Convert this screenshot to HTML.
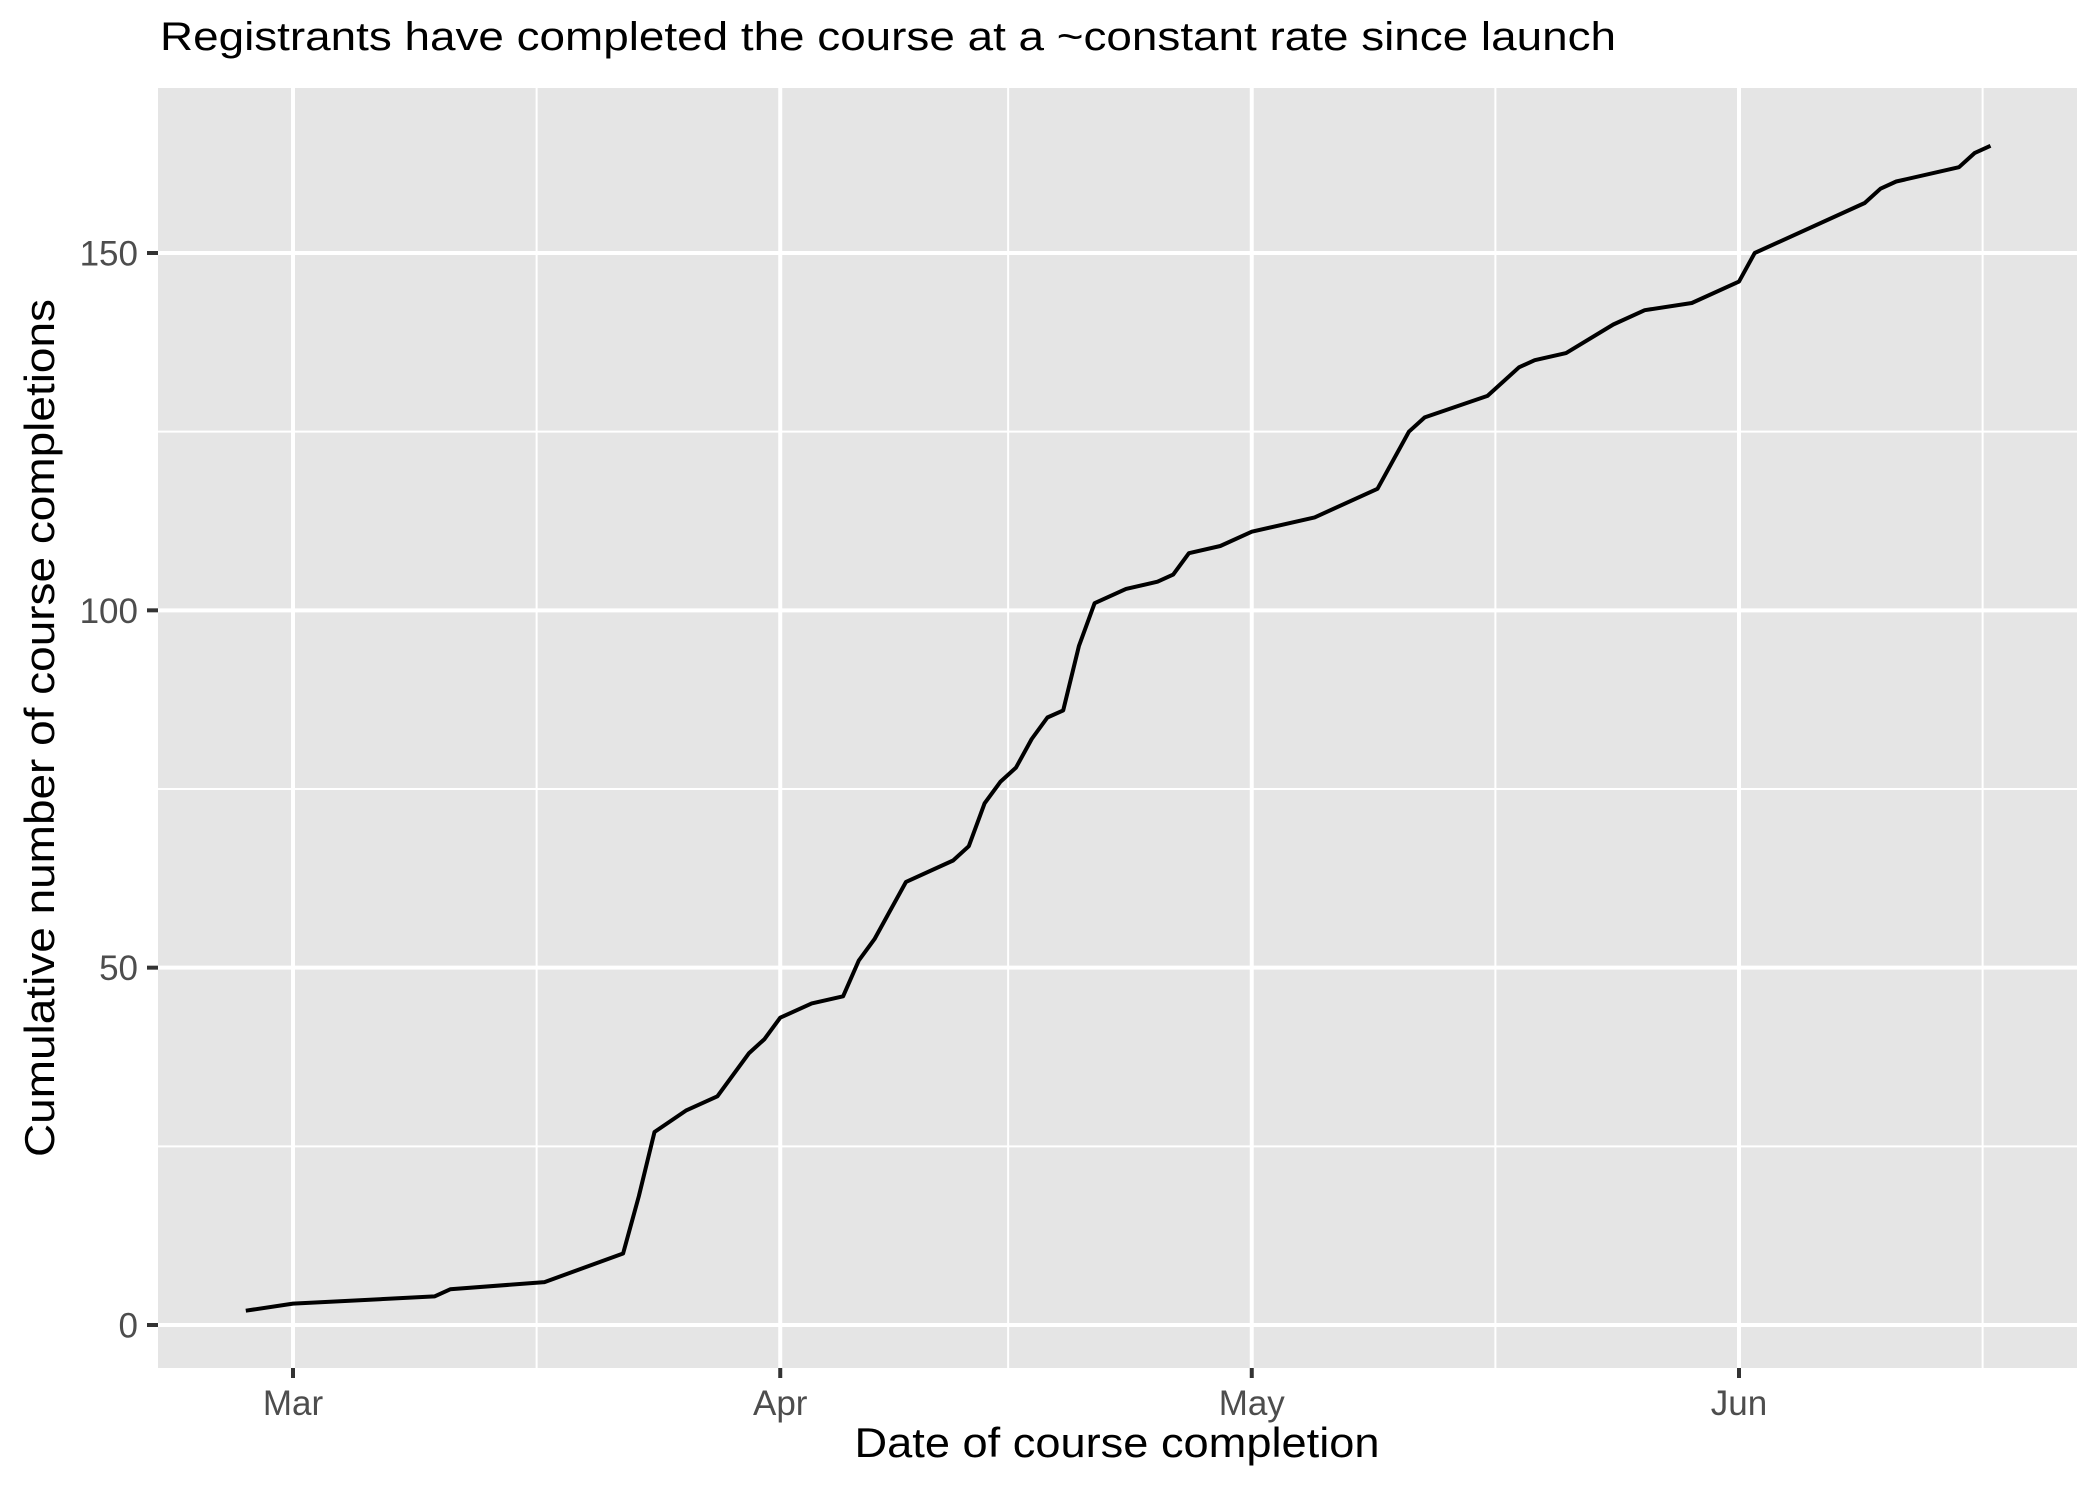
<!DOCTYPE html>
<html><head><meta charset="utf-8"><style>
html,body{margin:0;padding:0;background:#fff}
svg{display:block}
text{font-family:"Liberation Sans",Arial,sans-serif}
</style></head><body>
<svg id="chart" width="2100" height="1500" viewBox="0 0 2100 1500" xmlns="http://www.w3.org/2000/svg">
<text x="160" y="50" font-size="40" fill="#000" textLength="1456" lengthAdjust="spacingAndGlyphs">Registrants have completed the course at a ~constant rate since launch</text>
<rect x="158" y="88" width="1919" height="1280" fill="#e5e5e5"/>
<g id="grid"></g>
<g id="series"></g>
<g id="axes"></g>
<text x="1117" y="1457" font-size="42" text-anchor="middle" fill="#000" textLength="525" lengthAdjust="spacingAndGlyphs">Date of course completion</text>
<text transform="translate(54,728) rotate(-90)" font-size="42" text-anchor="middle" fill="#000" textLength="858" lengthAdjust="spacingAndGlyphs">Cumulative number of course completions</text>
</svg>
<script>
// days since Mar 1
const days = [-3,0,9,10,16,21,22,23,25,27,29,30,31,33,35,36,37,39,42,43,44,45,46,47,48,49,50,51,53,55,56,57,59,61,65,69,71,72,76,78,79,81,84,86,89,92,93,100,101,102,106,107,108];
const counts = [2,3,4,5,6,10,18,27,30,32,38,40,43,45,46,51,54,62,65,67,73,76,78,82,85,86,95,101,103,104,105,108,109,111,113,117,125,127,130,134,135,136,140,142,143,146,150,157,159,160,162,164,165];
const xTickDays = [0,31,61,92];
const xTickLabels = ["Mar","Apr","May","Jun"];
const xMinorDays = [15.5,45.5,76.5,107.5];
const yTicks = [0,50,100,150];
const yMinor = [25,75,125];

const NS = "http://www.w3.org/2000/svg";
const X0 = 293, XPD = (1739-293)/92;
const Y0 = 1325, YPU = (1325-253)/150;
const PL = 158, PR = 2077, PT = 88, PB = 1368;
const x = d => X0 + d*XPD;
const y = v => Y0 - v*YPU;
function mk(tag, attrs, parent){
  const e = document.createElementNS(NS, tag);
  for (const k in attrs) e.setAttribute(k, attrs[k]);
  parent.appendChild(e); return e;
}
const grid = document.getElementById('grid');
const axes = document.getElementById('axes');
const series = document.getElementById('series');

yMinor.forEach(v => {
  const l = mk('line', {x1:PL, x2:PR, y1:y(v), y2:y(v), stroke:'#fff', 'stroke-width':2}, grid);
  
  
});
xMinorDays.forEach(d => {
  const l = mk('line', {x1:x(d), x2:x(d), y1:PT, y2:PB, stroke:'#fff', 'stroke-width':2}, grid);
  
  
});
yTicks.forEach(v => {
  const l = mk('line', {x1:PL, x2:PR, y1:y(v), y2:y(v), stroke:'#fff', 'stroke-width':4}, grid);
  
  
  const t = mk('line', {x1:147, x2:PL, y1:y(v), y2:y(v), stroke:'#333', 'stroke-width':4}, axes);
  
  
  const tx = mk('text', {x:138, y:y(v)+12.5, 'font-size':35, 'text-anchor':'end', fill:'#4d4d4d'}, axes);
  tx.textContent = v;
  
  
});
xTickDays.forEach((d, i) => {
  const l = mk('line', {x1:x(d), x2:x(d), y1:PT, y2:PB, stroke:'#fff', 'stroke-width':4}, grid);
  
  
  const t = mk('line', {x1:x(d), x2:x(d), y1:PB, y2:PB+10, stroke:'#333', 'stroke-width':4}, axes);
  
  
  const tx = mk('text', {x:x(d), y:1415, 'font-size':35, 'text-anchor':'middle', fill:'#4d4d4d'}, axes);
  tx.textContent = xTickLabels[i];
  
  
});
const pts = days.map((d, i) => x(d).toFixed(1) + ',' + y(counts[i]).toFixed(1)).join(' ');
const pl = mk('polyline', {points:pts, fill:'none', stroke:'#000', 'stroke-width':4, 'stroke-linejoin':'round'}, series);


</script>
</body></html>
